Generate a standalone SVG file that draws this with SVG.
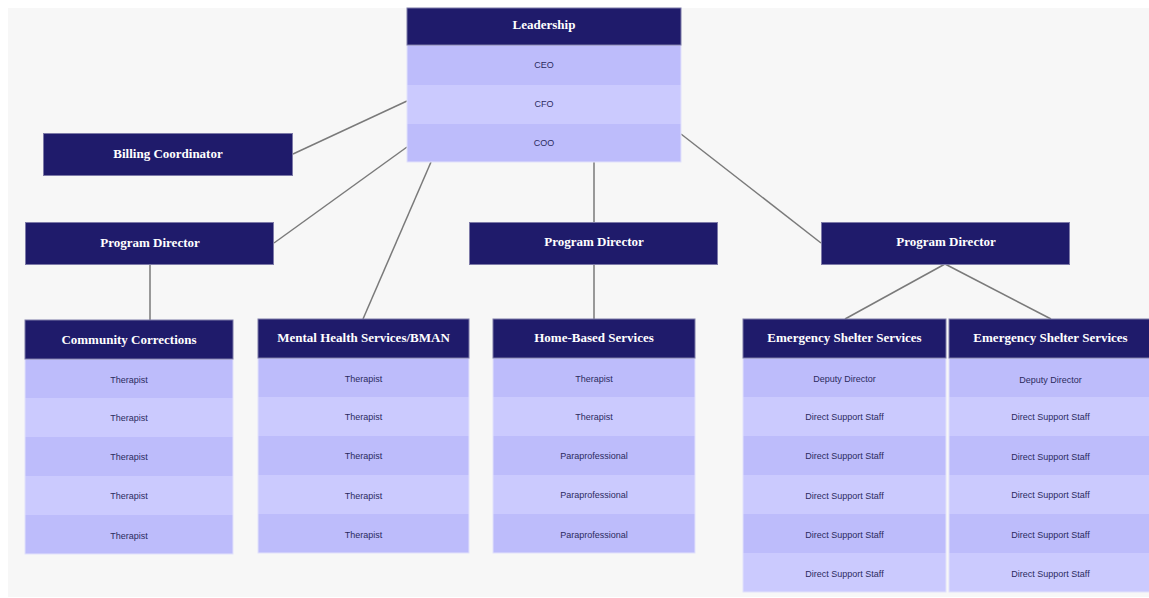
<svg xmlns="http://www.w3.org/2000/svg" width="1149" height="598" viewBox="0 0 1149 598">
<style>
.bg{fill:#f7f7f7}
.hd{fill:#1f1b6b;stroke:#7d7aa8;stroke-width:1}
.ra{fill:#bdbcfb}
.rb{fill:#cbcafe}
.frame{fill:none;stroke:#e2e2fb;stroke-width:1}
.ht{font-family:"Liberation Serif","DejaVu Serif",serif;font-weight:bold;font-size:13px;fill:#ffffff;text-anchor:middle}
.rt{font-family:"Liberation Sans","DejaVu Sans",sans-serif;font-size:9px;fill:#2b2b5e;text-anchor:middle}
.cn line{stroke:#7a7a7a;stroke-width:1.5;fill:none}
</style>
<rect x="0" y="0" width="1149" height="598" fill="#ffffff"/>
<rect class="bg" x="8" y="8" width="1141" height="589"/>

<g class="cn" id="connectors">
<line x1="293" y1="154" x2="407" y2="101"/>
<line x1="274" y1="243" x2="407" y2="147"/>
<line x1="150" y1="265" x2="150" y2="320"/>
<line x1="363" y1="319" x2="431" y2="162"/>
<line x1="594" y1="162" x2="594" y2="222"/>
<line x1="594" y1="265" x2="594" y2="319"/>
<line x1="681" y1="134" x2="821" y2="243"/>
<line x1="945" y1="264" x2="845" y2="319"/>
<line x1="945" y1="264" x2="1051" y2="319"/>
</g>

<g id="leadership">
<rect class="ra" x="407" y="45" width="274" height="40"/>
<rect class="rb" x="407" y="85" width="274" height="39"/>
<rect class="ra" x="407" y="124" width="274" height="38"/>
<rect class="frame" x="407" y="45" width="274" height="117"/>
<rect class="hd" x="407" y="8" width="274" height="37"/>
<text class="ht" x="544" y="29">Leadership</text>
<text class="rt" x="544" y="68">CEO</text>
<text class="rt" x="544" y="107">CFO</text>
<text class="rt" x="544" y="146">COO</text>
</g>

<g id="billing">
<rect class="hd" x="43.5" y="133.5" width="249" height="42"/>
<text class="ht" x="168" y="158">Billing Coordinator</text>
</g>

<g id="pd-left">
<rect class="hd" x="25.5" y="222.5" width="248" height="42"/>
<text class="ht" x="150" y="247">Program Director</text>
</g>

<g id="pd-mid">
<rect class="hd" x="469.5" y="222.5" width="248" height="42"/>
<text class="ht" x="594" y="246">Program Director</text>
</g>

<g id="pd-right">
<rect class="hd" x="821.5" y="222.5" width="248" height="42"/>
<text class="ht" x="946" y="246">Program Director</text>
</g>

<g id="community-corrections">
<rect class="ra" x="25" y="359" width="208" height="39"/>
<rect class="rb" x="25" y="398" width="208" height="39"/>
<rect class="ra" x="25" y="437" width="208" height="39"/>
<rect class="rb" x="25" y="476" width="208" height="39"/>
<rect class="ra" x="25" y="515" width="208" height="39"/>
<rect class="frame" x="25" y="359" width="208" height="195"/>
<rect class="hd" x="25" y="320" width="208" height="39"/>
<text class="ht" x="129" y="344">Community Corrections</text>
<text class="rt" x="129" y="383">Therapist</text>
<text class="rt" x="129" y="421">Therapist</text>
<text class="rt" x="129" y="460">Therapist</text>
<text class="rt" x="129" y="499">Therapist</text>
<text class="rt" x="129" y="539">Therapist</text>
</g>

<g id="mental-health">
<rect class="ra" x="258" y="358" width="211" height="39"/>
<rect class="rb" x="258" y="397" width="211" height="39"/>
<rect class="ra" x="258" y="436" width="211" height="39"/>
<rect class="rb" x="258" y="475" width="211" height="39"/>
<rect class="ra" x="258" y="514" width="211" height="39"/>
<rect class="frame" x="258" y="358" width="211" height="195"/>
<rect class="hd" x="258" y="319" width="211" height="39"/>
<text class="ht" x="363.5" y="342">Mental Health Services/BMAN</text>
<text class="rt" x="363.5" y="382">Therapist</text>
<text class="rt" x="363.5" y="420">Therapist</text>
<text class="rt" x="363.5" y="459">Therapist</text>
<text class="rt" x="363.5" y="499">Therapist</text>
<text class="rt" x="363.5" y="538">Therapist</text>
</g>

<g id="home-based">
<rect class="ra" x="493" y="358" width="202" height="39"/>
<rect class="rb" x="493" y="397" width="202" height="39"/>
<rect class="ra" x="493" y="436" width="202" height="39"/>
<rect class="rb" x="493" y="475" width="202" height="39"/>
<rect class="ra" x="493" y="514" width="202" height="39"/>
<rect class="frame" x="493" y="358" width="202" height="195"/>
<rect class="hd" x="493" y="319" width="202" height="39"/>
<text class="ht" x="594" y="342">Home-Based Services</text>
<text class="rt" x="594" y="382">Therapist</text>
<text class="rt" x="594" y="420">Therapist</text>
<text class="rt" x="594" y="459">Paraprofessional</text>
<text class="rt" x="594" y="498">Paraprofessional</text>
<text class="rt" x="594" y="538">Paraprofessional</text>
</g>

<g id="emergency-shelter-1">
<rect class="ra" x="743" y="358" width="203" height="39"/>
<rect class="rb" x="743" y="397" width="203" height="39"/>
<rect class="ra" x="743" y="436" width="203" height="39"/>
<rect class="rb" x="743" y="475" width="203" height="39"/>
<rect class="ra" x="743" y="514" width="203" height="39"/>
<rect class="rb" x="743" y="553" width="203" height="39"/>
<rect class="frame" x="743" y="358" width="203" height="234"/>
<rect class="hd" x="743" y="319" width="203" height="39"/>
<text class="ht" x="844.5" y="342">Emergency Shelter Services</text>
<text class="rt" x="844.5" y="382">Deputy Director</text>
<text class="rt" x="844.5" y="420">Direct Support Staff</text>
<text class="rt" x="844.5" y="459">Direct Support Staff</text>
<text class="rt" x="844.5" y="499">Direct Support Staff</text>
<text class="rt" x="844.5" y="538">Direct Support Staff</text>
<text class="rt" x="844.5" y="577">Direct Support Staff</text>
</g>

<g id="emergency-shelter-2">
<rect class="ra" x="949" y="358" width="203" height="39"/>
<rect class="rb" x="949" y="397" width="203" height="39"/>
<rect class="ra" x="949" y="436" width="203" height="39"/>
<rect class="rb" x="949" y="475" width="203" height="39"/>
<rect class="ra" x="949" y="514" width="203" height="39"/>
<rect class="rb" x="949" y="553" width="203" height="39"/>
<rect class="frame" x="949" y="358" width="203" height="234"/>
<rect class="hd" x="949" y="319" width="203" height="39"/>
<text class="ht" x="1050.5" y="342">Emergency Shelter Services</text>
<text class="rt" x="1050.5" y="383">Deputy Director</text>
<text class="rt" x="1050.5" y="420">Direct Support Staff</text>
<text class="rt" x="1050.5" y="460">Direct Support Staff</text>
<text class="rt" x="1050.5" y="498">Direct Support Staff</text>
<text class="rt" x="1050.5" y="538">Direct Support Staff</text>
<text class="rt" x="1050.5" y="577">Direct Support Staff</text>
</g>
</svg>
